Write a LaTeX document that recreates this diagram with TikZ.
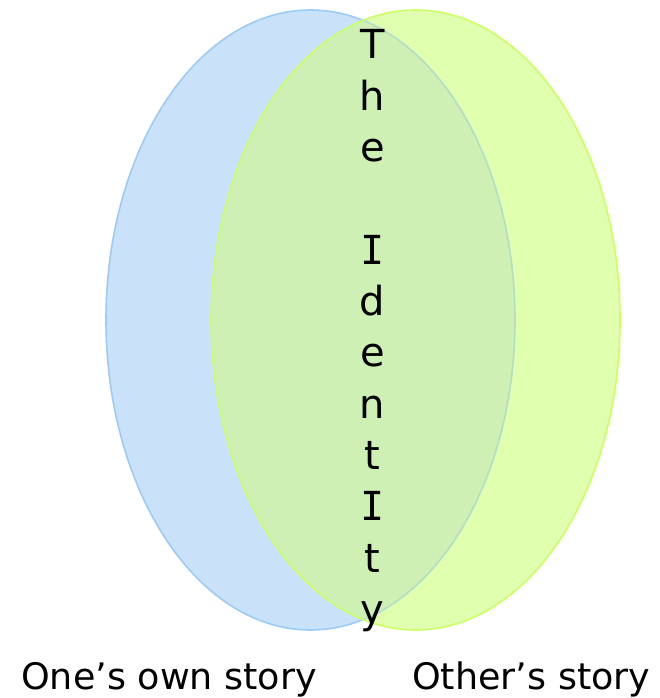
\documentclass[tikz,border=0pt]{standalone}
\usepackage{fontspec}
\setmainfont{DejaVu Sans}
\newfontfamily\serifI{DejaVu Sans Mono}
\definecolor{bfill}{HTML}{C9E2FA}
\definecolor{bline}{HTML}{9DCBF7}
\definecolor{gfill}{HTML}{E0FFAF}
\definecolor{gline}{HTML}{CCFF66}
\definecolor{ofill}{HTML}{CEF0B5}
\definecolor{oline}{HTML}{B2DEC6}
\tikzset{
  letter/.style={anchor=base, inner sep=0pt, font=\fontsize{40}{48}\selectfont, text=black},
  caption/.style={anchor=base west, inner sep=0pt, font=\fontsize{36.5}{44}\selectfont, text=black},
  rim/.style={line width=1.6pt}
}
\begin{document}
\begin{tikzpicture}[x=1pt,y=-1pt]
\useasboundingbox (0,0) rectangle (660,698);
\coordinate (own) at (310.5,320);
\coordinate (other) at (415.5,320);
% fills
\fill[bfill] (own) ellipse [x radius=204.5, y radius=310];
\draw[bline,rim] (own) ellipse [x radius=204.5, y radius=310];
\fill[gfill] (other) ellipse [x radius=204.5, y radius=310];
\begin{scope}
  \clip (own) ellipse [x radius=204.5, y radius=310];
  \fill[ofill] (other) ellipse [x radius=204.5, y radius=310];
\end{scope}
\begin{scope}
  \clip (other) ellipse [x radius=204.5, y radius=310];
  \draw[oline,rim] (own) ellipse [x radius=204.5, y radius=310];
\end{scope}
\draw[gline,rim] (other) ellipse [x radius=204.5, y radius=310];
% vertical text
\foreach \ch [count=\i from 0] in {T,h,e,{},{\serifI I},d,e,n,t,{\serifI I},t,y}{
  \node[letter] (l\i) at (372.5,59+51.3*\i) {\ch};
}
% captions
\node[caption] (capown) at (21,689.5) {One’s own story};
\node[caption] (capother) at (412,689.5) {Other’s story};
\end{tikzpicture}
\end{document}
